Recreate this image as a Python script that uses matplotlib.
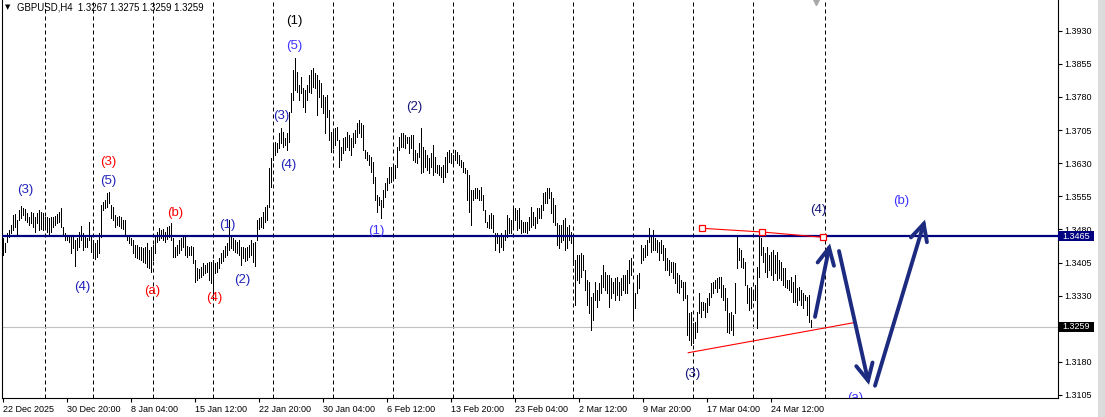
import matplotlib
matplotlib.use("Agg")
import matplotlib.pyplot as plt
from matplotlib.patches import FancyArrowPatch, Rectangle
from matplotlib.transforms import blended_transform_factory
import numpy as np

# ---------------- data (prices in 0.0001 units) ----------------
highs_pts = [
    13460, 13449, 13472, 13479, 13490, 13513, 13515, 13501, 13524, 13533,
    13528, 13526, 13517, 13508, 13519, 13517, 13508, 13517, 13524, 13519,
    13517, 13508, 13508, 13506, 13508, 13508, 13510, 13515, 13519, 13528,
    13485, 13472, 13467, 13465, 13467, 13463, 13456, 13460, 13474, 13488,
    13472, 13467, 13460, 13497, 13463, 13456, 13449, 13456, 13472, 13535,
    13542, 13547, 13562, 13565, 13535, 13531, 13513, 13508, 13510, 13508,
    13501, 13501, 13467, 13463, 13460, 13456, 13445, 13445, 13440, 13440,
    13438, 13440, 13449, 13433, 13440, 13445, 13463, 13474, 13483, 13479,
    13481, 13474, 13485, 13488, 13494, 13460, 13440, 13445, 13456, 13460,
    13463, 13463, 13442, 13440, 13442, 13440, 13411, 13393, 13390, 13395,
    13404, 13399, 13404, 13406, 13406, 13411, 13404, 13406, 13415, 13427,
    13433, 13442, 13449, 13501, 13467, 13460, 13456, 13451, 13456, 13440,
    13440, 13438, 13440, 13445, 13456, 13449, 13451, 13501, 13506, 13508,
    13519, 13531, 13535, 13619, 13642, 13676, 13678, 13676, 13698, 13710,
    13700, 13687, 13698, 13746, 13789, 13841, 13868, 13836, 13807, 13825,
    13800, 13796, 13807, 13830, 13841, 13845, 13834, 13830, 13818, 13811,
    13784, 13780, 13784, 13750, 13700, 13705, 13710, 13712, 13682, 13667,
    13687, 13689, 13700, 13694, 13687, 13698, 13705, 13721, 13728, 13721,
    13716, 13660, 13655, 13648, 13644, 13633, 13599, 13558, 13553, 13547,
    13569, 13585, 13596, 13621, 13621, 13621, 13626, 13667, 13689, 13698,
    13698, 13694, 13689, 13689, 13694, 13694, 13660, 13653, 13676, 13710,
    13667, 13660, 13648, 13642, 13653, 13671, 13644, 13626, 13626, 13621,
    13626, 13644, 13655, 13660, 13653, 13648, 13660, 13655, 13648, 13637,
    13633, 13619, 13614, 13603, 13569, 13569, 13574, 13574, 13569, 13576,
    13558, 13524, 13497, 13513, 13517, 13513, 13472, 13472, 13467, 13472,
    13467, 13479, 13513, 13506, 13501, 13531, 13528, 13524, 13528, 13501,
    13497, 13497, 13497, 13508, 13531, 13519, 13508, 13528, 13528, 13535,
    13562, 13565, 13574, 13574, 13565, 13551, 13535, 13494, 13490, 13490,
    13501, 13506, 13485, 13490, 13474, 13463, 13411, 13422, 13422, 13427,
    13422, 13388, 13365, 13361, 13327, 13336, 13361, 13343, 13359, 13377,
    13399, 13383, 13377, 13377, 13370, 13361, 13370, 13372, 13361, 13370,
    13377, 13377, 13388, 13411, 13415, 13359, 13336, 13377, 13381, 13445,
    13438, 13445, 13456, 13483, 13463, 13479, 13460, 13456, 13451, 13456,
    13445, 13438, 13415, 13411, 13406, 13406, 13404, 13381, 13377, 13365,
    13361, 13361, 13331, 13291, 13293, 13268, 13270, 13293, 13336, 13316,
    13316, 13313, 13325, 13336, 13359, 13361, 13365, 13370, 13372, 13372,
    13354, 13347, 13325, 13291, 13293, 13286, 13359, 13467, 13438, 13433,
    13415, 13406, 13354, 13347, 13350, 13338, 13354, 13395, 13467, 13460,
    13440, 13427, 13440, 13422, 13429, 13433, 13422, 13429, 13411, 13406,
    13393, 13393, 13365, 13365, 13372, 13361, 13377, 13347, 13350, 13343,
    13336, 13331, 13327, 13331, 13275,
]
lows_pts = [
    13422, 13429, 13451, 13463, 13472, 13479, 13485, 13467, 13501, 13506,
    13513, 13501, 13497, 13490, 13494, 13485, 13474, 13494, 13479, 13481,
    13479, 13481, 13474, 13470, 13474, 13485, 13490, 13494, 13497, 13485,
    13467, 13456, 13456, 13451, 13427, 13438, 13397, 13433, 13440, 13456,
    13433, 13440, 13440, 13456, 13429, 13415, 13413, 13417, 13427, 13463,
    13524, 13528, 13531, 13540, 13506, 13501, 13485, 13490, 13488, 13483,
    13481, 13467, 13456, 13449, 13445, 13427, 13417, 13415, 13413, 13411,
    13406, 13404, 13395, 13393, 13383, 13411, 13427, 13451, 13456, 13460,
    13456, 13451, 13458, 13463, 13456, 13417, 13417, 13422, 13427, 13433,
    13440, 13422, 13417, 13422, 13422, 13404, 13361, 13365, 13370, 13372,
    13377, 13381, 13383, 13365, 13359, 13331, 13381, 13383, 13393, 13404,
    13408, 13417, 13422, 13433, 13438, 13433, 13429, 13427, 13422, 13399,
    13415, 13408, 13411, 13417, 13422, 13406, 13397, 13456, 13481, 13485,
    13483, 13497, 13501, 13531, 13576, 13637, 13648, 13655, 13664, 13676,
    13667, 13671, 13660, 13678, 13746, 13773, 13796, 13791, 13773, 13789,
    13757, 13746, 13773, 13791, 13789, 13802, 13800, 13739, 13780, 13757,
    13744, 13698, 13734, 13682, 13655, 13664, 13671, 13682, 13621, 13637,
    13653, 13660, 13667, 13660, 13648, 13667, 13676, 13689, 13698, 13689,
    13660, 13642, 13637, 13626, 13610, 13585, 13547, 13519, 13535, 13506,
    13531, 13553, 13569, 13585, 13587, 13599, 13596, 13621, 13660, 13667,
    13667, 13664, 13676, 13653, 13664, 13637, 13633, 13630, 13644, 13608,
    13610, 13621, 13614, 13608, 13621, 13603, 13610, 13608, 13603, 13599,
    13587, 13599, 13610, 13633, 13630, 13630, 13637, 13630, 13626, 13621,
    13610, 13608, 13547, 13519, 13490, 13547, 13551, 13551, 13547, 13547,
    13524, 13497, 13485, 13483, 13483, 13474, 13433, 13449, 13429, 13440,
    13433, 13456, 13463, 13472, 13472, 13485, 13501, 13479, 13483, 13472,
    13474, 13474, 13472, 13479, 13485, 13490, 13483, 13494, 13506, 13506,
    13524, 13540, 13540, 13551, 13517, 13497, 13490, 13445, 13438, 13451,
    13456, 13433, 13438, 13456, 13449, 13399, 13309, 13365, 13359, 13372,
    13388, 13343, 13309, 13291, 13252, 13275, 13320, 13304, 13320, 13336,
    13350, 13343, 13336, 13304, 13325, 13336, 13320, 13331, 13320, 13331,
    13343, 13336, 13336, 13359, 13377, 13282, 13302, 13336, 13347, 13404,
    13411, 13417, 13422, 13451, 13429, 13433, 13433, 13429, 13411, 13427,
    13411, 13388, 13388, 13377, 13383, 13370, 13359, 13338, 13336, 13350,
    13320, 13325, 13241, 13230, 13218, 13223, 13234, 13248, 13291, 13282,
    13297, 13282, 13293, 13309, 13327, 13336, 13347, 13338, 13347, 13327,
    13320, 13297, 13248, 13245, 13252, 13241, 13291, 13393, 13411, 13395,
    13393, 13354, 13313, 13297, 13302, 13320, 13320, 13257, 13372, 13422,
    13406, 13383, 13372, 13388, 13377, 13365, 13381, 13365, 13370, 13365,
    13354, 13350, 13347, 13343, 13338, 13315, 13315, 13309, 13320, 13309,
    13302, 13320, 13286, 13270, 13259,
]

price_ticks = [1.3105, 1.3180, 1.3255, 1.3330, 1.3405, 1.3480,
               1.3555, 1.3630, 1.3705, 1.3780, 1.3855, 1.3930]
date_labels = ["22 Dec 2025", "30 Dec 20:00", "8 Jan 04:00", "15 Jan 12:00",
               "22 Jan 20:00", "30 Jan 04:00", "6 Feb 12:00", "13 Feb 20:00",
               "23 Feb 04:00", "2 Mar 12:00", "9 Mar 20:00", "17 Mar 04:00",
               "24 Mar 12:00"]
date_label_bars = [0, 32, 64, 96, 128, 160, 192, 224, 256, 288, 320, 352, 384]
week_start_bars = [21, 45, 75, 105, 135, 165, 195, 225, 255, 285, 315, 345, 375, 411]

level_price = 1.3465
last_price = 1.3259
header = "GBPUSD,H4  1.3267 1.3275 1.3259 1.3259"

# wave labels: text, bar, price, colour
wave_text = ["(3)", "(3)", "(5)", "(b)", "(1)", "(4)", "(a)", "(2)", "(4)",
             "(1)", "(5)", "(3)", "(4)", "(2)", "(1)", "(3)", "(4)", "(b)", "(a)"]
wave_bar = [11, 52.75, 52.75, 86, 112, 39.5, 74.5, 119.5, 105.5,
            145.75, 145.75, 139, 142.75, 205.5, 186.85, 344.5, 407.5, 449, 426]
wave_price = [1.35703, 1.36326, 1.35895, 1.35171, 1.34899, 1.33495, 1.33405,
              1.33654, 1.33246, 1.39519, 1.38953, 1.37367, 1.36258, 1.37571,
              1.34763, 1.31525, 1.35239, 1.35443, 1.30985]
BLUE, BRIGHT, NAVY, RED = "#2222b8", "#3f33ff", "#15157a", "#ff0000"
wave_color = [BLUE, RED, BLUE, RED, BLUE, BLUE, RED, BLUE, RED,
              "#000000", BRIGHT, BLUE, BLUE, NAVY, BRIGHT, NAVY, NAVY, BRIGHT, BRIGHT]

# projected path (bar, price) pairs: start -> end for each arrow
arrow_start_bar = [406, 418, 436]
arrow_start_price = [1.3282, 1.3431, 1.3126]
arrow_end_bar = [413.5, 433, 461]
arrow_end_price = [1.3448, 1.3128, 1.3502]

# red trend lines
upper_tl_bar = [349.6, 379.6, 409.8]
upper_tl_price = [1.34824, 1.34741, 1.34621]
lower_tl_bar = [342.6, 425.0]
lower_tl_price = [1.32007, 1.32684]

# ---------------- figure ----------------
W, H = 1105, 417
fig = plt.figure(figsize=(W / 100, H / 100), dpi=100)
fig.patch.set_facecolor("white")
ax = fig.add_axes([2 / W, (H - 398) / H, (1058 - 2) / W, 398 / H])
ax.set_facecolor("white")

TXT = "Liberation Sans"
LBL = "Liberation Sans"

highs = np.array(highs_pts) / 10000.0
lows = np.array(lows_pts) / 10000.0
xs = np.arange(len(highs))

ax.set_xlim(-0.5, 527.5)
ax.set_ylim(1.30982, 1.39994)

# week separators
for b in week_start_bars:
    ax.axvline(b, color="black", lw=0.72, linestyle=(0, (4, 3)), zorder=1)

# price bars
ax.vlines(xs, lows, highs, colors="black", linewidth=0.5, antialiased=False, zorder=3)

# levels
ax.axhline(last_price, color="#c0c0c0", lw=0.8, zorder=2)
ax.axhline(level_price, color="#000080", lw=1.6, zorder=4)

# red trend lines
ax.plot(upper_tl_bar, upper_tl_price, color="red", lw=0.8, zorder=5)
ax.plot(upper_tl_bar, upper_tl_price, linestyle="none", marker="s", ms=4,
        mfc="white", mec="red", mew=0.9, zorder=6)
ax.plot(lower_tl_bar, lower_tl_price, color="red", lw=0.8, zorder=5)

# arrows
for x0, y0, x1, y1 in zip(arrow_start_bar, arrow_start_price, arrow_end_bar, arrow_end_price):
    arr = FancyArrowPatch((x0, y0), (x1, y1),
                          arrowstyle="->,head_length=0.6,head_width=0.3",
                          mutation_scale=20, lw=2.8, color="#1c2a80",
                          shrinkA=0, shrinkB=0, zorder=7, capstyle="round",
                          joinstyle="miter")
    ax.add_patch(arr)

# wave labels
for t, bx, py, c in zip(wave_text, wave_bar, wave_price, wave_color):
    ax.text(bx, py, t, color=c, fontsize=9.5, family=LBL, ha="center", va="center",
            zorder=8, clip_on=True)

# marker on top
ax.plot([406.5], [1.39994], marker="v", ms=7, color="#a8a8a8", clip_on=False, zorder=9)

# spines
ax.spines["top"].set_visible(False)
for s in ["left", "right", "bottom"]:
    ax.spines[s].set_color("black")
    ax.spines[s].set_linewidth(0.8)

# y axis on the right
ax.yaxis.tick_right()
ax.set_yticks(price_ticks)
ax.set_yticklabels([f"{p:.4f}" for p in price_ticks])
ax.tick_params(axis="y", direction="out", length=3, width=0.8, pad=1.5,
               labelsize=6.5, colors="black")
for lab in ax.get_yticklabels():
    lab.set_family(TXT)

# x axis
ax.set_xticks(date_label_bars)
ax.set_xticklabels(date_labels)
ax.tick_params(axis="x", direction="out", length=3, width=0.8, pad=2,
               labelsize=6.5, colors="black")
for lab in ax.get_xticklabels():
    lab.set_family(TXT)
    lab.set_horizontalalignment("left")

# price boxes on the right scale
bt = blended_transform_factory(ax.transAxes, ax.transData)
box_w = 36 / 1056
half_h = 5 / 4416
for p, fc in [(level_price, "#000080"), (last_price, "#000000")]:
    ax.add_patch(Rectangle((1.0, p - half_h), box_w, 2 * half_h, transform=bt,
                           facecolor=fc, edgecolor="none", clip_on=False, zorder=10))
    ax.text(1.0 + 4 / 1056, p, f"{p:.4f}", transform=bt, color="white",
            fontsize=6.5, family=TXT, ha="left", va="center", clip_on=False, zorder=11)

# header
fig.text(4.5 / W, 1 - 7.5 / H, "\u25BC", fontsize=5, family="DejaVu Sans",
         ha="left", va="center", color="black")
fig.text(17 / W, 1 - 7.5 / H, header, fontsize=6.9, family=TXT,
         ha="left", va="center", color="black")

# window edge strip
fig.patches.append(Rectangle((1098 / W, 0), 7 / W, 1, transform=fig.transFigure,
                             facecolor="#dcdcdc", edgecolor="none", zorder=0))

fig.savefig("out.png", dpi=100)
